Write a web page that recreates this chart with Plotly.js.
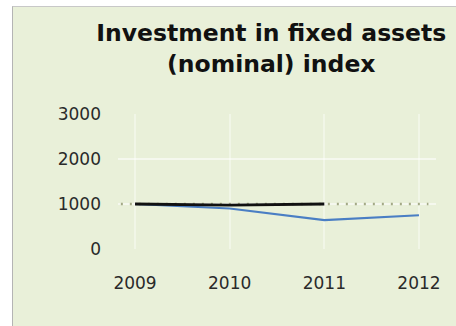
<!DOCTYPE html>
<html>
<head>
<meta charset="utf-8">
<script src="https://cdn.plot.ly/plotly-3.0.1.min.js"></script>
<style>
html,body{margin:0;padding:0;background:#ffffff;width:456px;height:326px;overflow:hidden;}
#chart{position:absolute;left:12px;top:6px;width:444px;height:320px;border-left:1px solid #b4b4b4;border-top:1px solid #c8c8c8;box-sizing:border-box;}
</style>
</head>
<body>
<div id="chart"></div>
<script>
const years = [2009, 2010, 2011, 2012];
const blueSeries = [1000, 900, 640, 750];
const blackYears = [2009, 2010, 2011];
const blackSeries = [1000, 975, 1000];
const baselineYears = [2008.85, 2012.1];
const baselineValues = [1000, 1000];
const yTicks = [0, 1000, 2000, 3000];
const xTickLabels = ['2009', '2010', '2011', '2012'];

const traces = [
  {x: baselineYears, y: baselineValues, mode: 'lines', line: {color: '#a3a985', width: 2.5, dash: '2px,7px'}, hoverinfo: 'skip'},
  {x: years, y: blueSeries, mode: 'lines', line: {color: '#4a7ec4', width: 2.2}},
  {x: blackYears, y: blackSeries, mode: 'lines', line: {color: '#111111', width: 2.8}}
];

const layout = {
  width: 443, height: 319,
  paper_bgcolor: '#e9f0d9',
  plot_bgcolor: 'rgba(0,0,0,0)',
  showlegend: false,
  margin: {l: 105, r: 20, t: 107, b: 77},
  title: {
    text: 'Investment in fixed assets<br>(nominal) index',
    font: {family: 'DejaVu Sans', size: 23.5, color: '#111111', weight: 'bold'},
    x: 0.583, xanchor: 'center', y: 0.892, yanchor: 'top'
  },
  xaxis: {
    range: [2008.82, 2012.18],
    tickvals: years, ticktext: xTickLabels,
    showgrid: true, gridcolor: 'rgba(255,255,255,0.38)', gridwidth: 2,
    zeroline: false, showline: false, ticks: '',
    ticklabelstandoff: 22,
    tickfont: {family: 'DejaVu Sans', size: 17, color: '#2a2a2a'}
  },
  yaxis: {
    range: [0, 3000],
    tickvals: yTicks,
    showgrid: true, gridcolor: 'rgba(255,255,255,0.55)', gridwidth: 2,
    zeroline: false, showline: false, ticks: '',
    ticklabelstandoff: 16,
    tickfont: {family: 'DejaVu Sans', size: 17, color: '#2a2a2a'}
  }
};
Plotly.newPlot('chart', traces, layout, {displayModeBar: false, staticPlot: true});
</script>
</body>
</html>
